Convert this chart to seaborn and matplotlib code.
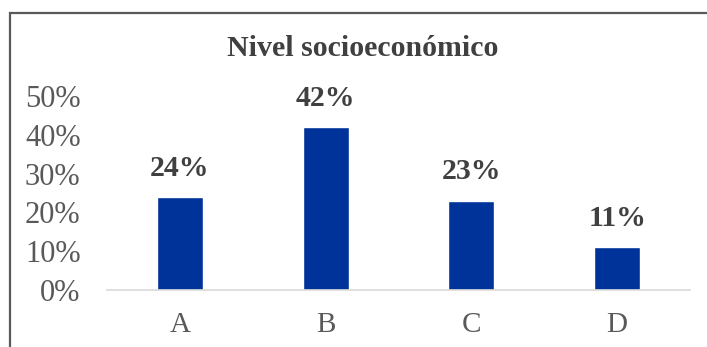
import matplotlib
matplotlib.use("Agg")
import matplotlib.pyplot as plt
import seaborn as sns
import pandas as pd
from matplotlib.patches import Rectangle

categories = ["A", "B", "C", "D"]
values = [0.24, 0.42, 0.23, 0.11]
value_labels = ["24%", "42%", "23%", "11%"]
yticks = [0.0, 0.1, 0.2, 0.3, 0.4, 0.5]
ytick_labels = ["0%", "10%", "20%", "30%", "40%", "50%"]
title = "Nivel socioeconómico"

sns.set_theme(style="white")
plt.rcParams["font.family"] = ["Liberation Serif", "DejaVu Serif"]

df = pd.DataFrame({"cat": categories, "val": values})

fig = plt.figure(figsize=(7.07, 3.47), dpi=100)
ax = fig.add_axes([107/707, 57/347, 583/707, 194/347])
sns.barplot(data=df, x="cat", y="val", color="#00339a", saturation=1,
            width=0.316, ax=ax)

ax.set_xlim(-0.5, 3.5)
ax.set_ylim(0, 0.5)
ax.set_yticks(yticks)
ax.set_yticklabels(ytick_labels)
ax.set_xlabel("")
ax.set_ylabel("")
for s in ["top", "right", "left"]:
    ax.spines[s].set_visible(False)
ax.spines["bottom"].set_color("#d9d9d9")
ax.spines["bottom"].set_linewidth(1.2)
ax.tick_params(axis="y", length=0, pad=19, labelsize=22, labelcolor="#595959")
ax.tick_params(axis="x", length=0, pad=16, labelsize=21, labelcolor="#595959")

for i, (v, lab) in enumerate(zip(values, value_labels)):
    ax.annotate(lab, (i, v), xytext=(0, 11), textcoords="offset points",
                ha="center", va="bottom", fontsize=21.5, fontweight="bold",
                color="#404040")

fig.text(363/707, 1 - 48/347, title, ha="center", va="center",
         fontsize=21.5, fontweight="bold", color="#404040")

fig.patches.append(Rectangle((10/707, -0.05), 1.0, 1 - 13/347 + 0.05,
                             transform=fig.transFigure, fill=False,
                             edgecolor="#595959", linewidth=1.6))

fig.savefig("out.png", dpi=100)
